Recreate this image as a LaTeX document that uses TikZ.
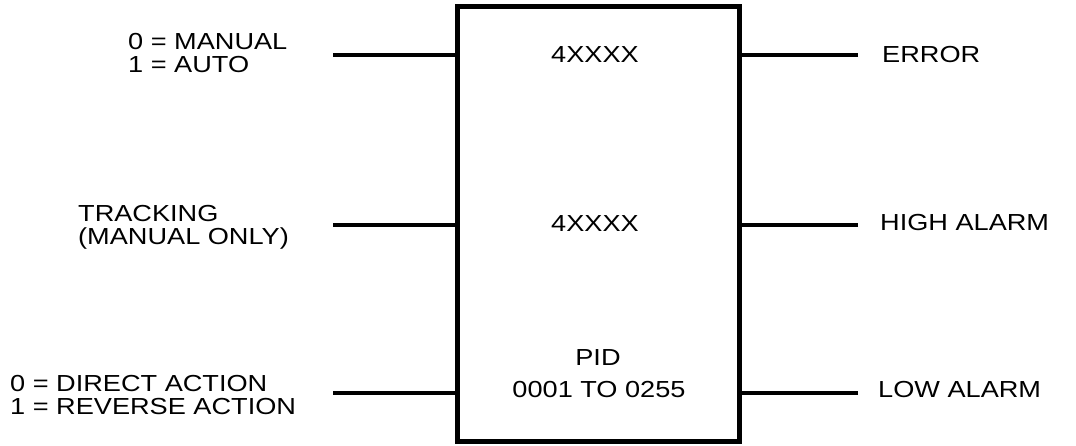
\documentclass[tikz,border=0pt]{standalone}
\usepackage{fontspec}
\setmainfont{Liberation Sans}[FakeStretch=1.17]
\begin{document}
\begin{tikzpicture}[x=1pt,y=-1pt,
  lbl/.style={font=\fontsize{23.2}{23}\selectfont, inner sep=0pt, align=left},
  ctr/.style={font=\fontsize{23.2}{23}\selectfont, inner sep=0pt},
  blockbox/.style={draw, line width=5pt, minimum width=282pt, minimum height=434pt, inner sep=0pt},
  wire/.style={line width=3.2pt}]
\useasboundingbox (0,0) rectangle (1076,446);
\node[blockbox] (blk) at (598,224) {};
% box texts
\node[ctr, anchor=base] (t1) at (595,63) {4XXXX};
\node[ctr, anchor=base] (t2) at (595,232) {4XXXX};
\node[ctr, anchor=base] (t3) at (598,365) {PID};
\node[ctr, anchor=base] (t4) at (599,397) {0001 TO 0255};
% left labels (base = last line)
\node[lbl, anchor=base west] (manual) at (128,73) {0 = MANUAL\\1 = AUTO};
\node[lbl, anchor=base west] (track) at (78,245) {TRACKING\\(MANUAL ONLY)};
\node[lbl, anchor=base west] (action) at (10,414) {0 = DIRECT ACTION\\1 = REVERSE ACTION};
% right labels
\node[lbl, anchor=base west] (err) at (882,63) {ERROR};
\node[lbl, anchor=base west] (high) at (880,231) {HIGH ALARM};
\node[lbl, anchor=base west] (low) at (878,397) {LOW ALARM};
% connector ends
\coordinate (l1) at (333,55);
\coordinate (l2) at (333,225);
\coordinate (l3) at (333,393);
\coordinate (r1) at (858,55);
\coordinate (r2) at (858,225);
\coordinate (r3) at (858,393);
\draw[wire] (l1) -- (l1 -| blk.west);
\draw[wire] (l2) -- (l2 -| blk.west);
\draw[wire] (l3) -- (l3 -| blk.west);
\draw[wire] (r1) -- (r1 -| blk.east);
\draw[wire] (r2) -- (r2 -| blk.east);
\draw[wire] (r3) -- (r3 -| blk.east);
\end{tikzpicture}
\end{document}
